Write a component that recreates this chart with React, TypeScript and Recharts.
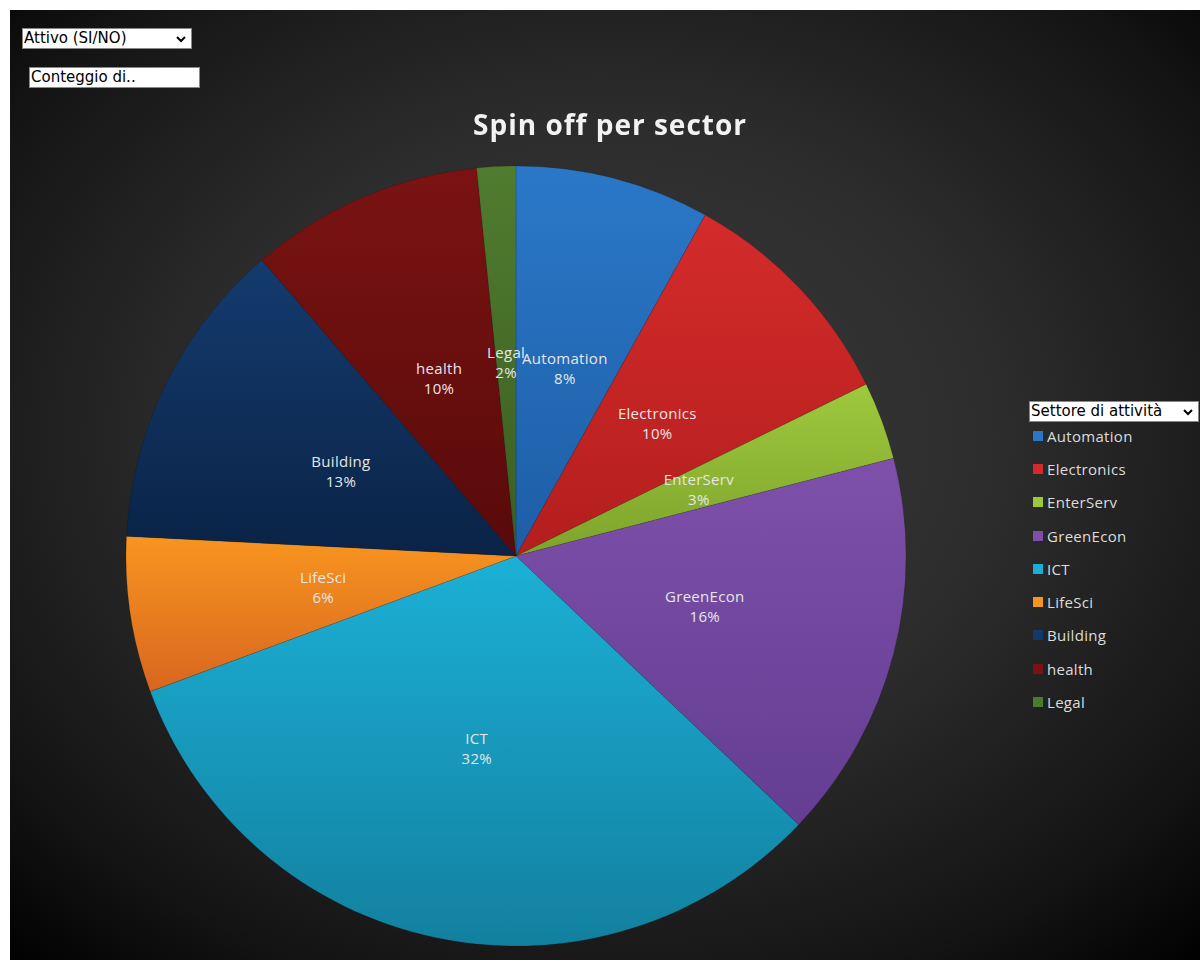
import React from 'react';
import { PieChart, Pie, Cell } from 'recharts';

const sectors = ['Automation', 'Electronics', 'EnterServ', 'GreenEcon', 'ICT', 'LifeSci', 'Building', 'health', 'Legal'];
const counts = [5, 6, 2, 10, 20, 4, 8, 6, 1];
const topColors = ['#2b78c8', '#d42b2b', '#9ec93d', '#7e50aa', '#1cb0d6', '#f8951f', '#143b6e', '#7b1313', '#507c2f'];
const bottomColors = ['#1d5ea6', '#b41e1e', '#7ea32b', '#633e92', '#12809f', '#d8661f', '#0a2346', '#580a0a', '#3a5d21'];
const legendColors = ['#2a77c6', '#d22a2a', '#9cc63b', '#7d4fa8', '#1aaed4', '#f7941e', '#13396b', '#7a1212', '#4e7a2e'];

const data = sectors.map((name, i) => ({ name, value: counts[i] }));

const RAD = Math.PI / 180;
const FONT = '"Open Sans", "Noto Sans", sans-serif';

const renderLabel = (props: any) => {
  const { cx, cy, midAngle, outerRadius, percent, name } = props;
  const r = outerRadius * 0.5;
  const x = cx + r * Math.cos(-midAngle * RAD);
  const y = cy + r * Math.sin(-midAngle * RAD);
  return (
    <text x={x} y={y} textAnchor="middle" fill="#e6e6e6" fontSize={15} fontFamily={FONT} letterSpacing={0.3}>
      <tspan x={x} dy={-3}>{name}</tspan>
      <tspan x={x} dy={20}>{`${Math.round(percent * 100)}%`}</tspan>
    </text>
  );
};

const Chevron = () => (
  <svg width="10" height="7" viewBox="0 0 10 7" style={{ position: 'absolute', right: 5, top: 7 }}>
    <path d="M1 1 L5 5 L9 1" stroke="#000" strokeWidth="2" fill="none" />
  </svg>
);

const boxStyle: React.CSSProperties = {
  position: 'absolute',
  background: '#fff',
  border: '1px solid #888',
  fontFamily: '"DejaVu Sans", sans-serif',
  fontSize: 15,
  color: '#000',
  boxSizing: 'border-box',
  paddingLeft: 1,
  lineHeight: '19px',
  height: 21,
  whiteSpace: 'nowrap',
};

export default function App() {
  return (
    <div style={{ position: 'fixed', left: 0, top: 0, width: 1200, height: 960, background: '#fff' }}>
      <div
        style={{
          position: 'absolute',
          left: 10,
          top: 10,
          width: 1190,
          height: 950,
          background: 'radial-gradient(ellipse 75% 75% at 50% 45%, #3c3c3c 0%, #2c2c2c 45%, #141414 80%, #000 100%)',
        }}
      >
        <div style={{ position: 'absolute', left: 0, top: 0 }}>
          <PieChart width={1000} height={950} margin={{ top: 0, right: 0, bottom: 0, left: 0 }}>
            <defs>
              {sectors.map((s, i) => (
                <linearGradient key={s} id={`g${i}`} x1="0" y1="0" x2="0" y2="1">
                  <stop offset="0%" stopColor={topColors[i]} />
                  <stop offset="100%" stopColor={bottomColors[i]} />
                </linearGradient>
              ))}
            </defs>
            <Pie
              data={data}
              dataKey="value"
              nameKey="name"
              cx={506}
              cy={546}
              outerRadius={390}
              startAngle={90}
              endAngle={-270}
              stroke="rgba(0,0,0,0.25)"
              strokeWidth={0.5}
              label={renderLabel}
              labelLine={false}
              isAnimationActive={false}
            >
              {data.map((d, i) => (
                <Cell key={d.name} fill={`url(#g${i})`} />
              ))}
            </Pie>
          </PieChart>
        </div>
        <div
          style={{
            position: 'absolute',
            left: 0,
            width: 1200,
            top: 95,
            textAlign: 'center',
            fontFamily: FONT,
            fontWeight: 700,
            fontSize: 28,
            color: '#f2f2f2',
            letterSpacing: 1,
          }}
        >
          Spin off per sector
        </div>
        <div style={{ position: 'absolute', left: 1023, top: 409, fontFamily: FONT, fontSize: 15, color: '#dcdcdc', letterSpacing: 0.3 }}>
          {sectors.map((s, i) => (
            <div key={s} style={{ display: 'flex', alignItems: 'center', height: 33.3 }}>
              <span style={{ display: 'inline-block', width: 10, height: 10, background: legendColors[i], marginRight: 4 }} />
              <span>{s}</span>
            </div>
          ))}
        </div>
      </div>
      <div style={{ ...boxStyle, left: 22, top: 28, width: 170 }}>
        Attivo (SI/NO)
        <Chevron />
      </div>
      <div style={{ ...boxStyle, left: 29, top: 67, width: 171 }}>Conteggio di..</div>
      <div style={{ ...boxStyle, left: 1029, top: 401, width: 170 }}>
        Settore di attività
        <Chevron />
      </div>
    </div>
  );
}
